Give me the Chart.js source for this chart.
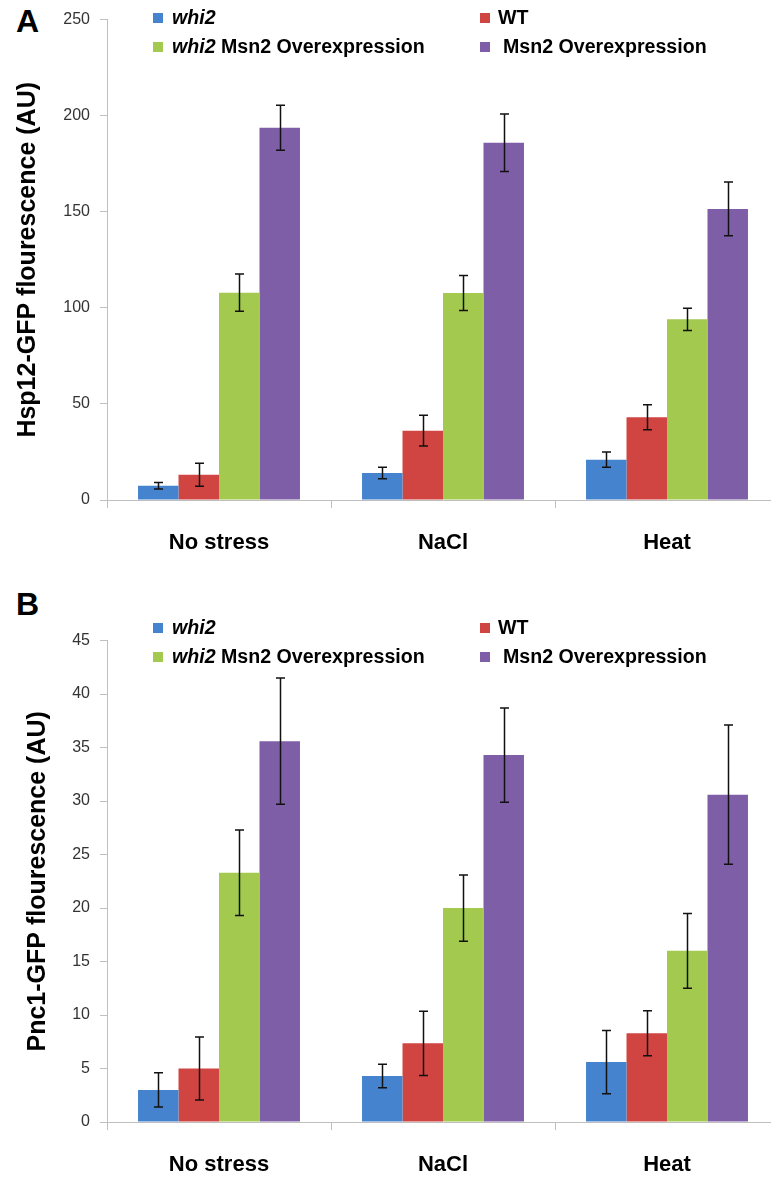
<!DOCTYPE html>
<html><head><meta charset="utf-8">
<script src="https://cdn.jsdelivr.net/npm/chart.js@4.4.1/dist/chart.umd.min.js"></script>
<style>
html,body{margin:0;padding:0;background:#fff;overflow:hidden;width:771px;height:1179px;position:relative;}
.wrap{position:absolute;left:0;}
.panel{position:absolute;font-family:"Liberation Sans",Arial,sans-serif;font-weight:bold;font-size:32px;color:#000;line-height:32px;}
.leg{position:absolute;font-family:"Liberation Sans",Arial,sans-serif;font-weight:bold;font-size:19.6px;color:#000;line-height:20px;white-space:nowrap;}
.sw{position:absolute;width:10px;height:10px;}
</style></head>
<body>
<div class="panel" style="left:16px;top:5px;">A</div>
<div class="panel" style="left:16px;top:588px;">B</div>
<div class="wrap" style="top:0px;width:790px;height:560px;"><canvas id="c1" width="790" height="560"></canvas></div>
<div class="wrap" style="top:621px;width:790px;height:561px;"><canvas id="c2" width="790" height="561"></canvas></div>
<div id="leg1"></div><div id="leg2"></div>
<script>
// ---- data ----
const categories = ["No stress", "NaCl", "Heat"];
const seriesNames = ["whi2", "WT", "whi2 Msn2 Overexpression", "Msn2 Overexpression"];
const seriesColors = ["#4683ce", "#d04541", "#a3c94e", "#7f5ea8"];

// Panel A: Hsp12-GFP
const hspWhi2 = [7.4, 14.1, 21.0];
const hspWhi2Err = [1.7, 3.0, 4.0];
const hspWT = [13.1, 36.1, 43.1];
const hspWTErr = [6.0, 8.0, 6.5];
const hspWhi2Msn2 = [107.9, 107.7, 94.0];
const hspWhi2Msn2Err = [9.7, 9.1, 5.8];
const hspMsn2 = [193.7, 185.9, 151.5];
const hspMsn2Err = [11.7, 15.0, 14.0];
const hspTicks = [0, 50, 100, 150, 200, 250];

// Panel B: Pnc1-GFP
const pncWhi2 = [3.0, 4.3, 5.6];
const pncWhi2Err = [1.6, 1.1, 2.95];
const pncWT = [5.0, 7.35, 8.3];
const pncWTErr = [2.95, 3.0, 2.1];
const pncWhi2Msn2 = [23.3, 20.0, 16.0];
const pncWhi2Msn2Err = [4.0, 3.1, 3.5];
const pncMsn2 = [35.6, 34.3, 30.6];
const pncMsn2Err = [5.9, 4.4, 6.5];
const pncTicks = [0, 5, 10, 15, 20, 25, 30, 35, 40, 45];

const FONT = '"Liberation Sans", Arial, sans-serif';

const errorBars = {
  id: 'errorBars',
  afterDatasetsDraw(chart) {
    const ctx = chart.ctx, y = chart.scales.y;
    ctx.save();
    ctx.strokeStyle = '#111';
    ctx.lineWidth = 1.5;
    chart.data.datasets.forEach((ds, i) => {
      const meta = chart.getDatasetMeta(i);
      meta.data.forEach((bar, j) => {
        const v = ds.data[j], e = ds.errors[j];
        const yt = y.getPixelForValue(v + e), yb = y.getPixelForValue(v - e);
        const x = Math.round(bar.x) + 0.5, h = 4.5;
        ctx.beginPath();
        ctx.moveTo(x, yt); ctx.lineTo(x, yb);
        ctx.moveTo(x - h, yt); ctx.lineTo(x + h, yt);
        ctx.moveTo(x - h, yb); ctx.lineTo(x + h, yb);
        ctx.stroke();
      });
    });
    ctx.restore();
  }
};

function makeChart(id, values, errors, ticks, title, titlePad) {
  const datasets = values.map((vals, i) => ({
    label: seriesNames[i],
    data: vals,
    errors: errors[i],
    backgroundColor: seriesColors[i],
    borderWidth: 0,
    barPercentage: 1.0,
    categoryPercentage: 0.723
  }));
  return new Chart(document.getElementById(id), {
    type: 'bar',
    data: { labels: categories, datasets },
    plugins: [errorBars],
    options: {
      responsive: false,
      animation: false,
      devicePixelRatio: 1,
      layout: { padding: { left: 0, top: 15, right: 11, bottom: 0 } },
      plugins: { legend: { display: false }, tooltip: { enabled: false } },
      scales: {
        x: {
          offset: true,
          grid: { offset: true, drawOnChartArea: false, drawTicks: true, tickLength: 8, color: '#bfbfbf' },
          border: { color: '#bfbfbf', width: 1 },
          ticks: { color: '#000', font: { family: FONT, size: 22, weight: 'bold' }, padding: 22, maxRotation: 0 },
          afterFit(s) { s.height = 60; }
        },
        y: {
          min: ticks[0], max: ticks[ticks.length - 1],
          afterBuildTicks(s) { s.ticks = ticks.map(v => ({ value: v })); },
          grid: { drawOnChartArea: false, drawTicks: true, tickLength: 7, color: '#bfbfbf' },
          border: { color: '#bfbfbf', width: 1 },
          ticks: { color: '#333333', font: { family: FONT, size: 16 }, padding: 10 },
          title: { display: true, text: title, color: '#000', font: { family: FONT, size: 25, weight: 'bold', lineHeight: 1.2 }, padding: { top: titlePad, bottom: 0 } },
          afterFit(s) { s.width = 107; }
        }
      }
    }
  });
}

makeChart('c1', [hspWhi2, hspWT, hspWhi2Msn2, hspMsn2],
  [hspWhi2Err, hspWTErr, hspWhi2Msn2Err, hspMsn2Err], hspTicks,
  'Hsp12-GFP flourescence (AU)', 13);
makeChart('c2', [pncWhi2, pncWT, pncWhi2Msn2, pncMsn2],
  [pncWhi2Err, pncWTErr, pncWhi2Msn2Err, pncMsn2Err], pncTicks,
  'Pnc1-GFP flourescence (AU)', 23);

// legends (HTML, mixed italic)
function legend(hostId, rowCenters) {
  const host = document.getElementById(hostId);
  const sqX = [153, 480, 153, 480];
  const txX = [172, 498, 172, 503];
  seriesNames.forEach((name, i) => {
    const cy = rowCenters[i < 2 ? 0 : 1];
    const sw = document.createElement('div');
    sw.className = 'sw';
    sw.style.left = sqX[i] + 'px';
    sw.style.top = (cy - 4) + 'px';
    sw.style.background = seriesColors[i];
    host.appendChild(sw);
    const t = document.createElement('div');
    t.className = 'leg';
    t.style.left = txX[i] + 'px';
    t.style.top = (cy - 10) + 'px';
    t.innerHTML = name.replace(/^whi2/, '<i>whi2</i>');
    host.appendChild(t);
  });
}
legend('leg1', [17, 46]);
legend('leg2', [627, 656]);
</script>
</body></html>
